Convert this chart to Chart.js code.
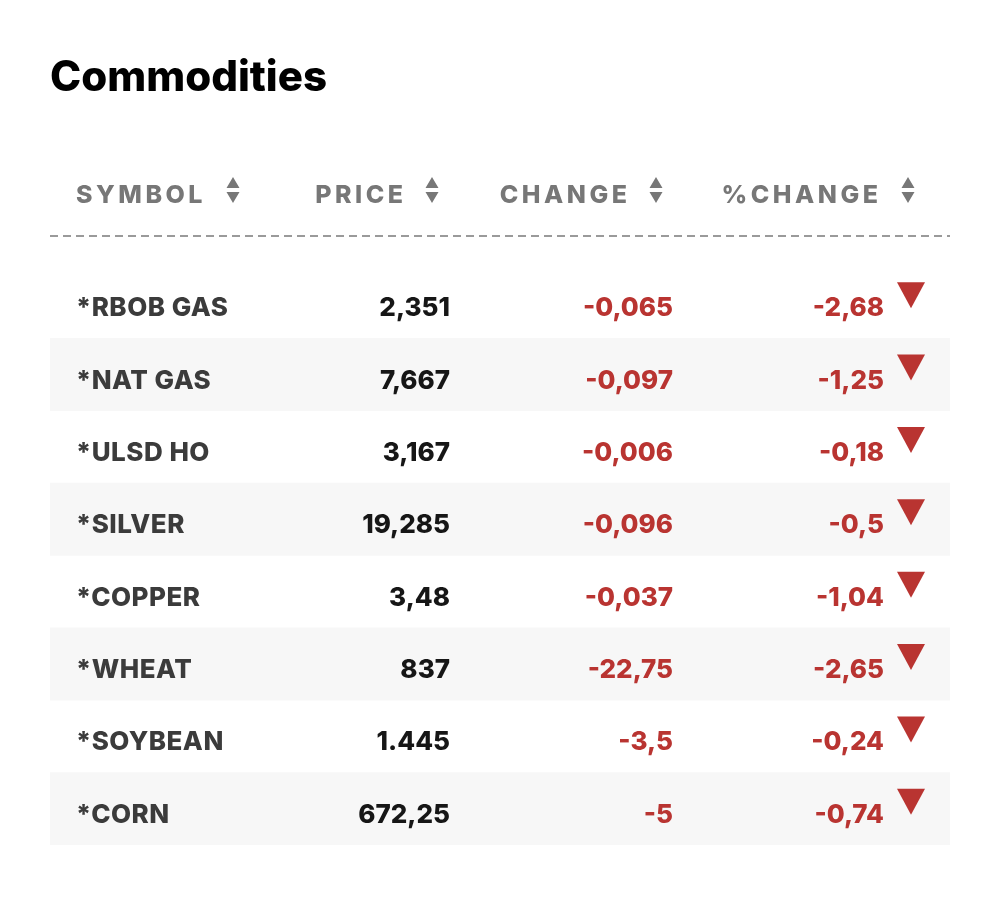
<!DOCTYPE html>
<html>
<head>
<meta charset="utf-8">
<script src="https://cdn.jsdelivr.net/npm/chart.js@4/dist/chart.umd.min.js"></script>
<style>
  html, body { margin: 0; padding: 0; background: #fff; }
  #wrap { width: 1000px; height: 911px; position: relative; }
</style>
</head>
<body>
<div id="wrap"><canvas id="commoditiesChart"></canvas></div>
<script>
// table data
const headers = ['SYMBOL', 'PRICE', 'CHANGE', '%CHANGE'];
const symbols = ['*RBOB GAS', '*NAT GAS', '*ULSD HO', '*SILVER', '*COPPER', '*WHEAT', '*SOYBEAN', '*CORN'];
const prices = [2.351, 7.667, 3.167, 19.285, 3.48, 837, 1445, 672.25];
const changes = [-0.065, -0.097, -0.006, -0.096, -0.037, -22.75, -3.5, -5];
const pctChanges = [-2.68, -1.25, -0.18, -0.5, -1.04, -2.65, -0.24, -0.74];

const FONT = 'Inter, Lato, sans-serif';
const RED = '#b93431';

// 1.445 / 2,351 style number format
function fmt(v) {
    const neg = v < 0;
    let [i, d] = Math.abs(v).toString().split('.');
    i = i.replace(/\B(?=(\d{3})+(?!\d))/g, '.');
    return (neg ? '-' : '') + i + (d ? ',' + d : '');
}

// draws header + cell texts on top of the row bands
const tablePlugin = {
    id: 'tableText',
    afterDatasetsDraw(chart) {
        const ctx = chart.ctx;
        const area = chart.chartArea;
        const y = chart.scales.y;
        const L = area.left;

        // header row
        const headerY = area.top - 72;
        const headerRight = [null, 353, 577, 828];
        const arrowX = [183, 382, 606, 858];
        ctx.save();
        ctx.font = `800 25px ${FONT}`;
        ctx.letterSpacing = '3.5px';
        ctx.fillStyle = '#777';
        ctx.textBaseline = 'alphabetic';
        headers.forEach((h, i) => {
            if (i === 0) {
                ctx.textAlign = 'left';
                ctx.fillText(h, L + 26, headerY + 9);
            } else {
                ctx.textAlign = 'right';
                ctx.fillText(h, L + headerRight[i] + 3.5, headerY + 9);
            }
            // sort arrows
            const ax = L + arrowX[i];
            ctx.beginPath();
            ctx.moveTo(ax - 6.5, headerY - 6);
            ctx.lineTo(ax + 6.5, headerY - 6);
            ctx.lineTo(ax, headerY - 17);
            ctx.closePath();
            ctx.moveTo(ax - 6.5, headerY - 2);
            ctx.lineTo(ax + 6.5, headerY - 2);
            ctx.lineTo(ax, headerY + 9);
            ctx.closePath();
            ctx.fill();
        });

        // dashed rule
        ctx.strokeStyle = '#9a9a9a';
        ctx.lineWidth = 2;
        ctx.setLineDash([8, 5]);
        ctx.beginPath();
        ctx.moveTo(area.left, area.top - 30);
        ctx.lineTo(area.right, area.top - 30);
        ctx.stroke();
        ctx.setLineDash([]);

        // rows
        ctx.font = `800 26px ${FONT}`;
        symbols.forEach((s, i) => {
            const cy = y.getPixelForValue(i);
            const base = cy + 14;
            ctx.letterSpacing = '0.5px';
            ctx.textAlign = 'left';
            ctx.fillStyle = '#3b3b3b';
            ctx.fillText(s, L + 26, base);
            ctx.letterSpacing = '0px';
            ctx.textAlign = 'right';
            ctx.fillStyle = '#161616';
            ctx.fillText(fmt(prices[i]), L + 400, base);
            ctx.fillStyle = RED;
            ctx.fillText(fmt(changes[i]), L + 623, base);
            ctx.fillText(fmt(pctChanges[i]), L + 834, base);
            // down triangle
            const tx = L + 861;
            ctx.beginPath();
            ctx.moveTo(tx - 14, cy - 20);
            ctx.lineTo(tx + 14, cy - 20);
            ctx.lineTo(tx, cy + 6);
            ctx.closePath();
            ctx.fill();
        });
        ctx.restore();
    }
};

const ctx = document.getElementById('commoditiesChart').getContext('2d');
const commoditiesChart = new Chart(ctx, {
    type: 'bar',
    data: {
        labels: symbols,
        datasets: [{
            label: 'rows',
            // shaded band on every second row
            data: symbols.map((s, i) => (i % 2 ? [0, 1] : null)),
            backgroundColor: '#f7f7f7',
            borderWidth: 0,
            barPercentage: 1,
            categoryPercentage: 1
        }]
    },
    options: {
        indexAxis: 'y',
        responsive: true,
        maintainAspectRatio: false,
        animation: false,
        layout: {
            padding: { top: 0, left: 50, right: 50, bottom: 66 }
        },
        plugins: {
            legend: { display: false },
            tooltip: { enabled: false },
            title: {
                display: true,
                text: 'Commodities',
                align: 'start',
                color: '#000',
                font: { family: 'Inter, Lato, sans-serif', size: 42, weight: '800', lineHeight: 1.2 },
                padding: { top: 53, bottom: 162.6 }
            }
        },
        scales: {
            x: { display: false, min: 0, max: 1 },
            y: { display: false }
        }
    },
    plugins: [tablePlugin]
});
</script>
</body>
</html>
